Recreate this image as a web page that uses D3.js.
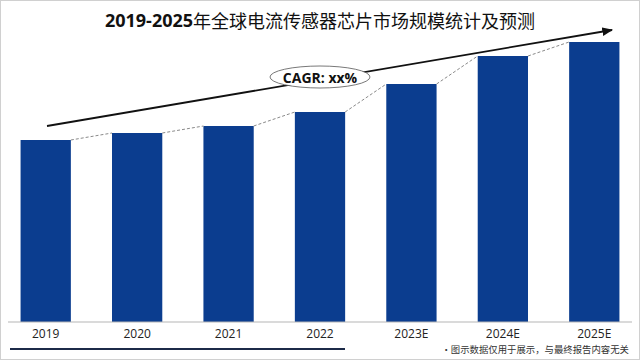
<!DOCTYPE html>
<html>
<head>
<meta charset="utf-8">
<script src="https://cdn.jsdelivr.net/npm/d3@7"></script>
<style>
  body { margin: 0; background: #fff; }
  #container { width: 640px; height: 360px; }
</style>
</head>
<body>
<div id="container"></div>
<script>
// data (relative scale, no axis shown)
let years = ["2019", "2020", "2021", "2022", "2023E", "2024E", "2025E"];
let marketSize = [65, 67.5, 70, 75, 85, 95, 100];
let titleYears = "2019-2025";
let titleRest = "年全球电流传感器芯片市场规模统计及预测";
let cagrText = "CAGR: xx%";
let noteText = "•图示数据仅用于展示，与最终报告内容无关";

let w = 640;
let h = 360;
let baseY = 322;
let barColor = "#0b3d8f";

let svg = d3.select("#container")
  .append("svg")
    .attr("width", w)
    .attr("height", h)
    .style("font-family", "'Noto Sans CJK SC', 'Open Sans', sans-serif");

// thin frame around the picture
svg.append("rect")
  .attr("x", 0.5).attr("y", 0.5)
  .attr("width", w - 1).attr("height", h - 1)
  .attr("fill", "#fff")
  .attr("stroke", "#d0d0d0");

let xScale = d3.scaleBand().domain(years).range([0, w])
  .paddingInner(0.45).paddingOuter(0.225);
let yScale = d3.scaleLinear().domain([0, 100]).range([baseY, 42]);

// bars
svg.selectAll(".bar").data(marketSize).enter()
  .append("rect")
    .classed("bar", true)
    .attr("x", (d, i) => xScale(years[i]))
    .attr("y", d => yScale(d))
    .attr("width", xScale.bandwidth())
    .attr("height", d => baseY - yScale(d))
    .attr("fill", barColor);

// dashed connectors between bar tops
let pairs = d3.pairs(marketSize.map((d, i) => ({ v: d, k: years[i] })));
svg.selectAll(".conn").data(pairs).enter()
  .append("line")
    .attr("x1", d => xScale(d[0].k) + xScale.bandwidth())
    .attr("y1", d => yScale(d[0].v))
    .attr("x2", d => xScale(d[1].k))
    .attr("y2", d => yScale(d[1].v))
    .attr("stroke", "#8a8a8a")
    .attr("stroke-width", 1)
    .attr("stroke-dasharray", "3,2");

// x axis
let xAxis = svg.append("g")
  .attr("transform", "translate(0," + baseY + ")")
  .call(d3.axisBottom(xScale).tickSize(0).tickPadding(7));
xAxis.select(".domain").remove();
xAxis.append("line")
  .attr("x1", 8).attr("x2", w - 8)
  .attr("stroke", "#b5b5b5").attr("stroke-width", 1);
xAxis.selectAll("text")
  .style("font-family", "'Open Sans', sans-serif")
  .style("font-size", "12px")
  .attr("fill", "#222");

// CAGR arrow
let defs = svg.append("defs");
defs.append("marker")
  .attr("id", "arrow")
  .attr("viewBox", "0 0 10 10")
  .attr("refX", 9).attr("refY", 5)
  .attr("markerWidth", 6).attr("markerHeight", 6)
  .attr("orient", "auto")
  .append("path")
    .attr("d", "M0,1 L10,5 L0,9 Z")
    .attr("fill", "#111");

svg.append("line")
  .attr("x1", 47).attr("y1", 126)
  .attr("x2", 612).attr("y2", 30)
  .attr("stroke", "#111")
  .attr("stroke-width", 1.8)
  .attr("marker-end", "url(#arrow)");

svg.append("ellipse")
  .attr("cx", 320).attr("cy", 77)
  .attr("rx", 50).attr("ry", 11)
  .attr("fill", "#fff")
  .attr("stroke", "#555")
  .attr("stroke-width", 0.8);

svg.append("text")
  .attr("x", 320).attr("y", 77)
  .attr("text-anchor", "middle")
  .attr("dominant-baseline", "central")
  .style("font-family", "'Open Sans', sans-serif")
  .style("font-size", "14px")
  .style("font-weight", "bold")
  .attr("fill", "#111")
  .text(cagrText);

// title: bold digits, regular CJK
let title = svg.append("text")
  .attr("x", 320).attr("y", 20)
  .attr("text-anchor", "middle")
  .attr("dominant-baseline", "central")
  .style("font-size", "18px")
  .attr("fill", "#111");
title.append("tspan")
  .style("font-family", "'Open Sans', sans-serif")
  .style("font-weight", "bold")
  .text(titleYears);
title.append("tspan")
  .style("font-weight", "400")
  .text(titleRest);

// bottom rule and footnote
svg.append("line")
  .attr("x1", 10).attr("x2", 345)
  .attr("y1", 349).attr("y2", 349)
  .attr("stroke", "#1c2a48")
  .attr("stroke-width", 2);

svg.append("text")
  .attr("x", 629).attr("y", 349)
  .attr("text-anchor", "end")
  .attr("dominant-baseline", "central")
  .style("font-family", "'Noto Sans CJK SC', serif")
  .style("font-size", "9.4px")
  .attr("fill", "#333")
  .text(noteText);
</script>
</body>
</html>
